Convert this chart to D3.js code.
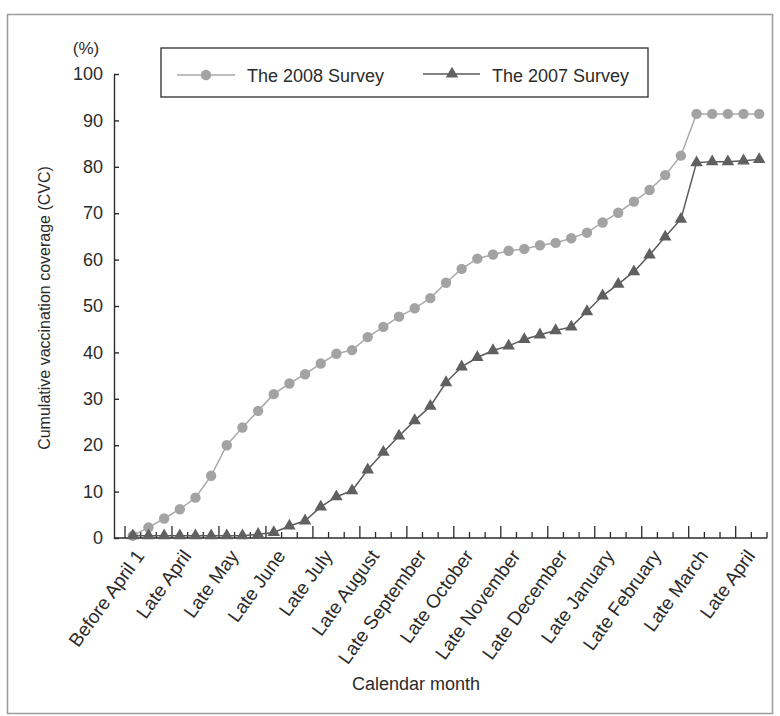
<!DOCTYPE html>
<html><head><meta charset="utf-8">
<script src="https://cdn.jsdelivr.net/npm/d3@7"></script>
<style>body{margin:0;background:#fff}svg{display:block}</style>
</head><body><svg id="c" width="780" height="716"></svg>
<script>
// 41 ten-day periods
const categories = [
  "Before April 1",
  "Early April","Mid April","Late April",
  "Early May","Mid May","Late May",
  "Early June","Mid June","Late June",
  "Early July","Mid July","Late July",
  "Early August","Mid August","Late August",
  "Early September","Mid September","Late September",
  "Early October","Mid October","Late October",
  "Early November","Mid November","Late November",
  "Early December","Mid December","Late December",
  "Early January","Mid January","Late January",
  "Early February","Mid February","Late February",
  "Early March","Mid March","Late March",
  "Early April (next)","Mid April (next)","Late April (next)",
  "Early May (next)"
];
const tickLabels = ["Before April 1","Late April","Late May","Late June","Late July","Late August",
  "Late September","Late October","Late November","Late December","Late January",
  "Late February","Late March","Late April"];
const tickLabelCats = ["Before April 1","Late April","Late May","Late June","Late July","Late August",
  "Late September","Late October","Late November","Late December","Late January",
  "Late February","Late March","Late April (next)"];
const survey2008 = [0.5,2.3,4.2,6.2,8.7,13.4,20.0,23.8,27.4,31.0,33.3,35.3,37.6,39.7,40.5,43.3,45.5,47.7,49.5,51.7,
  55.0,58.0,60.2,61.1,61.9,62.3,63.1,63.6,64.6,65.8,68.0,70.1,72.5,75.0,78.2,82.4,91.4,91.4,91.4,91.4,91.4];
const survey2007 = [0.5,0.5,0.5,0.5,0.5,0.5,0.5,0.5,0.8,1.2,2.6,3.7,6.7,8.9,10.2,14.7,18.5,22.0,25.3,28.4,
  33.5,36.9,38.9,40.4,41.4,42.8,43.8,44.7,45.5,48.8,52.2,54.7,57.4,61.0,64.9,68.7,80.9,81.1,81.1,81.3,81.6];
const yTicks = [0,10,20,30,40,50,60,70,80,90,100];
const seriesNames = ["The 2008 Survey","The 2007 Survey"];

const svg = d3.select("#c");
const font = "'Liberation Sans', Arial, Helvetica, sans-serif";
const ink = "#2b2b2b";

// outer frame
svg.append("rect").attr("x",7.5).attr("y",14.5).attr("width",765).attr("height",699)
  .attr("fill","none").attr("stroke","#9a9a9a").attr("stroke-width",1.5);

const x = d3.scaleBand().domain(categories).range([125, 767]).paddingInner(0).paddingOuter(0);
const y = d3.scaleLinear().domain([0,100]).range([538, 74]);
const bw = x.bandwidth();
const cx = c => x(c) + bw/2;

// y axis
const yAxis = d3.axisLeft(y).tickValues(yTicks).tickSizeInner(-5).tickSizeOuter(0).tickPadding(11);
const gy = svg.append("g").attr("transform","translate(114,0)").call(yAxis);
gy.select(".domain").attr("stroke",ink).attr("stroke-width",1.4);
gy.selectAll(".tick line").attr("stroke",ink).attr("stroke-width",1.4);
gy.selectAll(".tick text").attr("font-family",font).attr("font-size",18).attr("fill",ink);

// x axis line and ticks
const gx = svg.append("g");
gx.append("line").attr("x1",114).attr("x2",767).attr("y1",538).attr("y2",538)
  .attr("stroke",ink).attr("stroke-width",1.4);
const bounds = categories.map((c,i)=>({pos:x(c), major: i%3===0}));
bounds.push({pos: x(categories[categories.length-1]) + bw, major:false});
gx.selectAll("line.t").data(bounds).join("line").attr("class","t")
  .attr("x1",d=>d.pos).attr("x2",d=>d.pos).attr("y1",538).attr("y2",d=>538-(d.major?12:6))
  .attr("stroke",ink).attr("stroke-width",1.3);
gx.selectAll("text.lab").data(tickLabelCats).join("text").attr("class","lab")
  .attr("transform",(c)=>`translate(${cx(c)+12.5},556) rotate(-54)`)
  .attr("text-anchor","end").attr("font-family",font).attr("font-size",19).attr("fill",ink)
  .text((c,i)=>tickLabels[i]);

// titles
svg.append("text").attr("x",416).attr("y",690).attr("text-anchor","middle")
  .attr("font-family",font).attr("font-size",18).attr("fill",ink).text("Calendar month");
svg.append("text").attr("transform","translate(50,308) rotate(-90)").attr("text-anchor","middle")
  .attr("font-family",font).attr("font-size",16).attr("fill",ink).text("Cumulative vaccination coverage (CVC)");
svg.append("text").attr("x",86).attr("y",54).attr("text-anchor","middle")
  .attr("font-family",font).attr("font-size",17).attr("fill",ink).text("(%)");

// series
const c08 = "#a3a3a3", l08 = "#a9a9a9", c07 = "#606060", l07 = "#5a5a5a";
const line = d3.line().x((d,i)=>cx(categories[i])).y(d=>y(d));
svg.append("path").datum(survey2008).attr("d",line).attr("fill","none").attr("stroke",l08).attr("stroke-width",1.5);
svg.selectAll("circle.p08").data(survey2008).join("circle").attr("class","p08")
  .attr("cx",(d,i)=>cx(categories[i])).attr("cy",d=>y(d)).attr("r",5.2).attr("fill",c08);
svg.append("path").datum(survey2007).attr("d",line).attr("fill","none").attr("stroke",l07).attr("stroke-width",1.5);
const tri = d3.symbol().type(d3.symbolTriangle).size(68);
svg.selectAll("path.p07").data(survey2007).join("path").attr("class","p07")
  .attr("transform",(d,i)=>`translate(${cx(categories[i])},${y(d)})`).attr("d",tri).attr("fill",c07);

// legend
const lg = svg.append("g");
lg.append("rect").attr("x",161).attr("y",48).attr("width",487).attr("height",49)
  .attr("fill","#fff").attr("stroke",ink).attr("stroke-width",1.3);
lg.append("line").attr("x1",177).attr("x2",235).attr("y1",75).attr("y2",75).attr("stroke",l08).attr("stroke-width",1.5);
lg.append("circle").attr("cx",206).attr("cy",75).attr("r",5.2).attr("fill",c08);
lg.append("text").attr("x",247).attr("y",81.5).attr("font-family",font).attr("font-size",18).attr("fill",ink).text(seriesNames[0]);
lg.append("line").attr("x1",423).attr("x2",480).attr("y1",74).attr("y2",74).attr("stroke",l07).attr("stroke-width",1.5);
lg.append("path").attr("transform","translate(452,74)").attr("d",tri).attr("fill",c07);
lg.append("text").attr("x",492).attr("y",81.5).attr("font-family",font).attr("font-size",18).attr("fill",ink).text(seriesNames[1]);
</script></body></html>
